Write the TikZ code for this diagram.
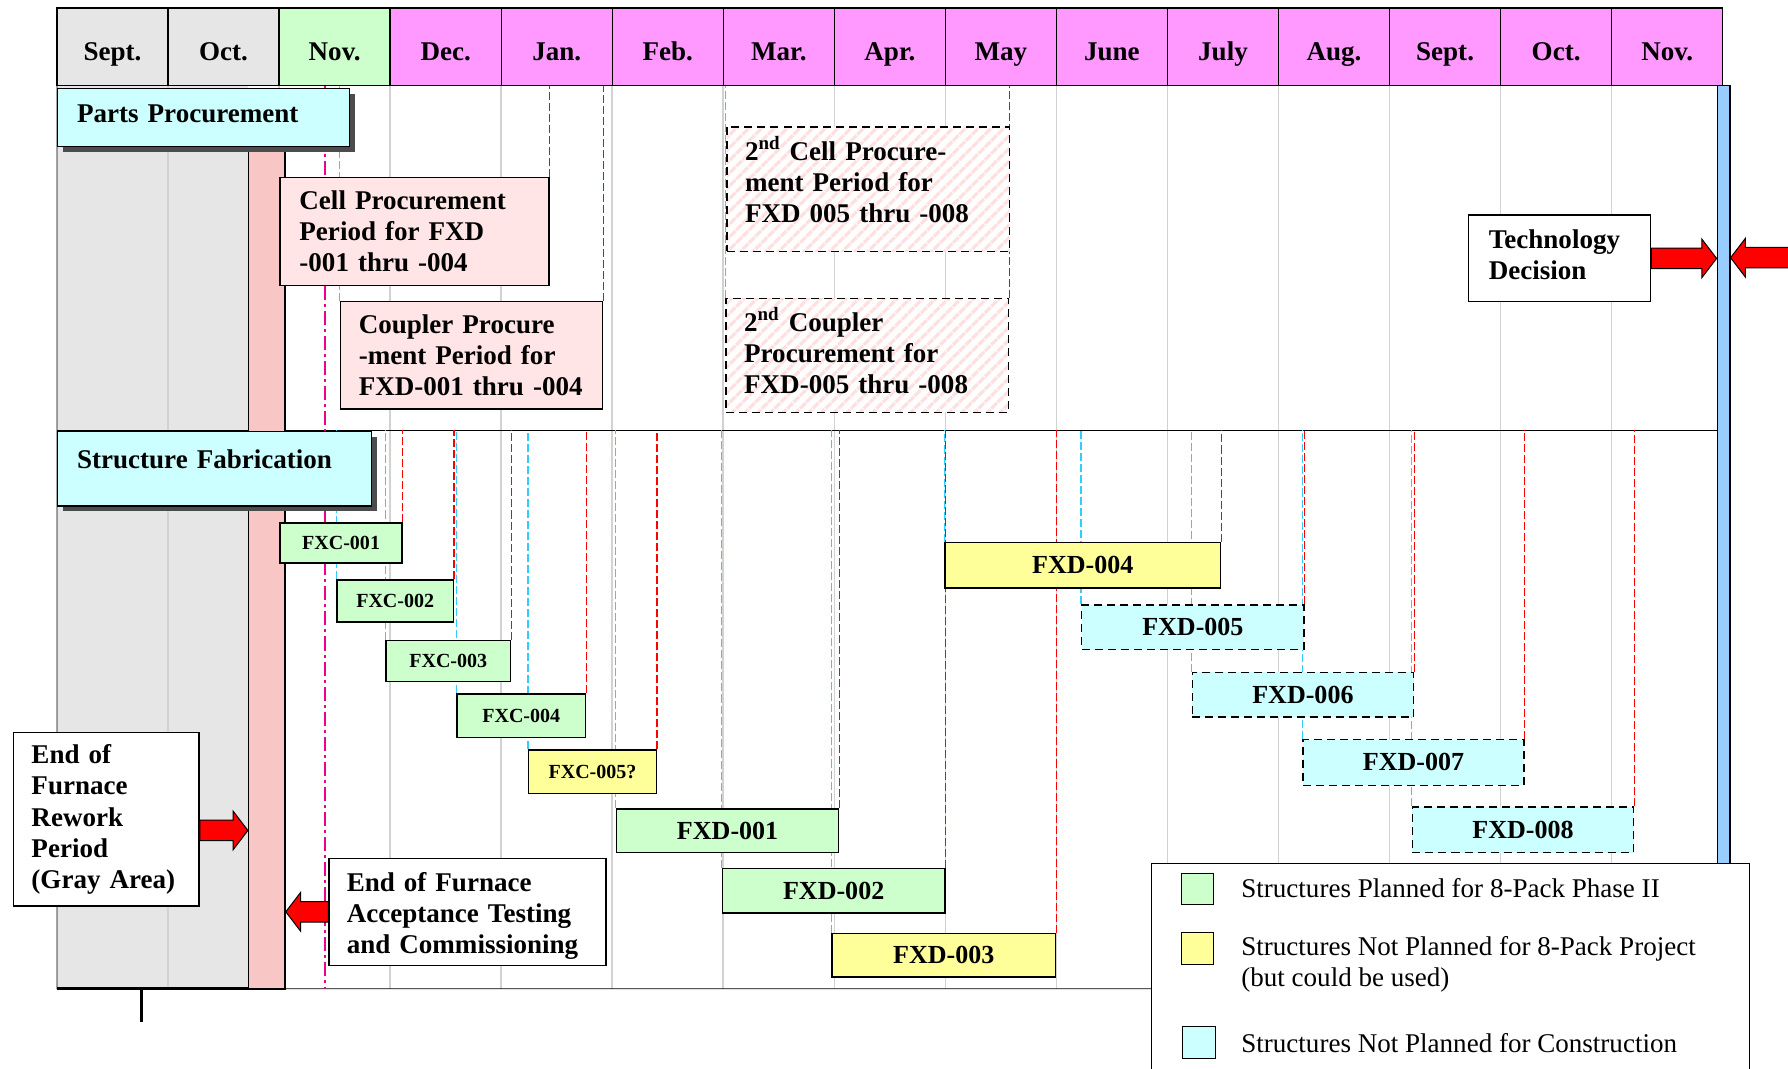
\documentclass[tikz,border=0pt]{standalone}
\usepackage{fontspec}
\setmainfont{Liberation Serif}
\usepackage{xcolor}
\usepackage{tikz}
\usetikzlibrary{positioning, fit, calc, shadows, patterns.meta}

\definecolor{graycell}{HTML}{E6E6E6}
\definecolor{novgreen}{HTML}{CCFFCC}
\definecolor{magcell}{HTML}{FF99FF}
\definecolor{cyancell}{HTML}{CCFFFF}
\definecolor{yellowcell}{HTML}{FFFF99}
\definecolor{pinkband}{HTML}{F9C6C6}
\definecolor{pinkbox}{HTML}{FFE5E5}
\definecolor{bluebar}{HTML}{99CCFF}
\definecolor{limitcyan}{HTML}{33CCFF}

\pgfdeclarelayer{bg}
\pgfdeclarelayer{guides}
\pgfsetlayers{bg,guides,main}

\begin{document}
\begin{tikzpicture}[
    x=0.02cm, y=-0.02cm, line width=0.7pt,
    month/.style={rectangle, draw, fill=magcell, outer sep=0pt, minimum width=1.948cm, minimum height=1.36cm, text height=17pt, text depth=3pt, font=\fontsize{13.5}{16}\selectfont\bfseries},
    section/.style={rectangle, draw, fill=cyancell, anchor=north west, inner sep=0pt, align=left, font=\fontsize{13.5}{16}\selectfont\bfseries, drop shadow={shadow xshift=2.8pt, shadow yshift=-2.8pt, fill=gray!60!black, opacity=1}},
    note/.style={rectangle, draw, fill=white, anchor=north west, inner sep=0pt, align=left, font=\fontsize{13.5}{15.5}\selectfont\bfseries},
    buy/.style={note, fill=pinkbox},
    buylater/.style={rectangle, draw, anchor=north west, inner sep=0pt, align=left, font=\fontsize{13.5}{15.5}\selectfont\bfseries, dash pattern=on 4pt off 2.5pt, preaction={fill=white}, pattern={Lines[angle=45, distance=4.5pt, line width=1.6pt]}, pattern color=red!12},
    fxc/.style={rectangle, draw, anchor=north west, inner sep=0pt, minimum height=0.74cm, font=\fontsize{10}{12}\selectfont\bfseries},
    fxd/.style={fxc, minimum height=0.78cm, font=\fontsize{13}{15}\selectfont\bfseries},
    planned/.style={fill=novgreen},
    spare/.style={fill=yellowcell},
    unplanned/.style={fill=cyancell, dash pattern=on 4pt off 2.5pt},
    key/.style={rectangle, draw, inner sep=0pt},
    keytext/.style={inner sep=0pt, anchor=west, align=left, font=\fontsize{13.5}{15.4}\selectfont},
    gridline/.style={gray!35, line width=0.8pt},
    redlimit/.style={red, line width=0.6pt, dash pattern=on 4pt off 1.5pt},
    cyanlimit/.style={limitcyan, line width=0.6pt, dash pattern=on 4pt off 1.5pt},
    furnace/.style={magenta, line width=1.3pt, dash pattern=on 7pt off 2pt on 1.5pt off 2pt},
    fatarrow/.style={draw=black, fill=red, line width=0.5pt, line join=miter, to path={
        ($(\tikztostart)!0.18cm!90:(\tikztotarget)$)
        -- ($(\tikztotarget)!0.26cm!(\tikztostart)!0.18cm!-90:(\tikztostart)$)
        -- ($(\tikztotarget)!0.26cm!(\tikztostart)!0.34cm!-90:(\tikztostart)$)
        -- (\tikztotarget)
        -- ($(\tikztotarget)!0.26cm!(\tikztostart)!0.34cm!90:(\tikztostart)$)
        -- ($(\tikztotarget)!0.26cm!(\tikztostart)!0.18cm!90:(\tikztostart)$)
        -- ($(\tikztostart)!0.18cm!-90:(\tikztotarget)$)
        -- cycle}}
]
\useasboundingbox (0,0) rectangle (1568,937);
\clip (0,0) rectangle (1568,937);

% Month header
\node[month, fill=graycell] (m1) at (98.7,41) {Sept.};
\node[month, fill=graycell, right=0pt of m1] (m2) {Oct.};
\node[month, fill=novgreen, right=0pt of m2] (m3) {Nov.};
\node[month, right=0pt of m3] (m4) {Dec.};
\node[month, right=0pt of m4] (m5) {Jan.};
\node[month, right=0pt of m5] (m6) {Feb.};
\node[month, right=0pt of m6] (m7) {Mar.};
\node[month, right=0pt of m7] (m8) {Apr.};
\node[month, right=0pt of m8] (m9) {May};
\node[month, right=0pt of m9] (m10) {June};
\node[month, right=0pt of m10] (m11) {July};
\node[month, right=0pt of m11] (m12) {Aug.};
\node[month, right=0pt of m12] (m13) {Sept.};
\node[month, right=0pt of m13] (m14) {Oct.};
\node[month, right=0pt of m14] (m15) {Nov.};

\coordinate (div) at (50,377);
\coordinate (bot) at (50,867);
\coordinate (accepted) at (285,75);
\coordinate (tick) at (124,867);
\coordinate (offpage) at (1620,226);

% Rework band and decision bar
\node[draw, fill=pinkband, inner sep=0pt, fit={(218,120)(250,867)}] (band) {};
\node[draw, fill=bluebar, inner sep=0pt, fit={(1506,75)(1517,960)}] (bar) {};

% Parts procurement
\node[section, minimum width=5.12cm, minimum height=1.02cm, text width=4.44cm, text height=9.5pt, text depth=5pt] (parts) at (50,77) {Parts Procurement};
\node[buy, minimum width=4.72cm, minimum height=1.9cm, text width=4.04cm] (cell) at (245,155) {Cell Procurement\\Period for FXD\\-001 thru -004};
\node[buy, minimum width=4.6cm, minimum height=1.88cm, text width=3.96cm] (coupler) at (298,264) {Coupler Procure\\-ment Period for\\FXD-001 thru -004};
\node[buylater, minimum width=4.96cm, minimum height=2.18cm, text width=4.32cm, text depth=40.5pt] (cell2) at (636,110) {2\textsuperscript{nd} Cell Procure-\\ment Period for\\FXD 005 thru -008};
\node[buylater, minimum width=4.96cm, minimum height=2.0cm, text width=4.32cm, text depth=36pt] (coupler2) at (636,261) {2\textsuperscript{nd} Coupler\\Procurement for\\FXD-005 thru -008};
\node[note, minimum width=3.2cm, minimum height=1.52cm, text width=2.48cm, text depth=19pt] (tech) at (1287,188) {Technology\\Decision};

% Structure fabrication
\node[section, minimum width=5.5cm, minimum height=1.3cm, text width=4.82cm, text height=9.5pt, text depth=9.5pt] (fab) at (50,378) {Structure Fabrication};
\node[fxc, planned, minimum width=2.14cm, minimum height=0.7cm] (fxc1) at (245,458) {FXC-001};
\node[fxc, planned, minimum width=2.04cm] (fxc2) at (295,508) {FXC-002};
\node[fxc, planned, minimum width=2.18cm, minimum height=0.72cm] (fxc3) at (338,561) {FXC-003};
\node[fxc, planned, minimum width=2.26cm, minimum height=0.76cm] (fxc4) at (400,608) {FXC-004};
\node[fxc, spare, minimum width=2.24cm, minimum height=0.76cm] (fxc5) at (463,657) {FXC-005?};
\node[fxd, planned, minimum width=3.9cm, minimum height=0.76cm] (fxd1) at (540,709) {FXD-001};
\node[fxd, planned, minimum width=3.9cm] (fxd2) at (633,761) {FXD-002};
\node[fxd, spare, minimum width=3.92cm, minimum height=0.76cm] (fxd3) at (729,818) {FXD-003};
\node[fxd, spare, minimum width=4.84cm, minimum height=0.8cm] (fxd4) at (828,475) {FXD-004};
\node[fxd, unplanned, minimum width=3.9cm] (fxd5) at (948,530) {FXD-005};
\node[fxd, unplanned, minimum width=3.88cm] (fxd6) at (1045,589) {FXD-006};
\node[fxd, unplanned, minimum width=3.88cm, minimum height=0.8cm] (fxd7) at (1142,648) {FXD-007};
\node[fxd, unplanned, minimum width=3.88cm, minimum height=0.8cm] (fxd8) at (1238,707) {FXD-008};

% Furnace notes
\node[note, minimum width=3.26cm, minimum height=3.04cm, text width=2.62cm] (rework) at (11,642) {End of\\Furnace\\Rework\\Period\\(Gray Area)};
\node[note, minimum width=4.86cm, minimum height=1.88cm, text width=4.24cm, text height=13.5pt] (accept) at (288,752) {End of Furnace\\Acceptance Testing\\and Commissioning};
\coordinate (reworkend) at ([yshift=-5.5pt]rework.east);

% Arrows
\draw[fatarrow] (reworkend) to (reworkend -| band.west);
\draw[fatarrow] (accept.west) to (accept.west -| band.east);
\draw[fatarrow] (tech.east) to (tech.east -| bar.west);
\draw[fatarrow] (offpage) to (offpage -| bar.east);

% Legend
\node[draw, fill=white, inner sep=0pt, fit={(1010,757)(1534,960)}] (legend) {};
\node[key, fill=novgreen, fit={(1036,766)(1064,793)}] (keyplanned) {};
\node[key, fill=yellowcell, fit={(1036,818)(1064,846)}] (keyspare) {};
\node[key, fill=cyancell, fit={(1037,900)(1066,928)}] (keyunplanned) {};
\node[keytext] (txtplanned) at (1088,779) {Structures Planned for 8-Pack Phase II};
\node[keytext] (txtspare) at (1088,846) {Structures Not Planned for 8-Pack Project\\(but could be used)};
\node[keytext] (txtunplanned) at (1088,915) {Structures Not Planned for Construction};

\begin{pgfonlayer}{bg}
\fill[white] (0,0) rectangle (1568,937);
\fill[graycell] (m1.south west) rectangle (band.west |- bot);
\draw[gridline] (m2.south west) -- (m2.south west |- bot)
    (m3.south west) -- (m3.south west |- bot)
    (m4.south west) -- (m4.south west |- bot)
    (m5.south west) -- (m5.south west |- bot)
    (m6.south west) -- (m6.south west |- bot)
    (m7.south west) -- (m7.south west |- bot)
    (m8.south west) -- (m8.south west |- bot)
    (m9.south west) -- (m9.south west |- bot)
    (m10.south west) -- (m10.south west |- bot)
    (m11.south west) -- (m11.south west |- bot)
    (m12.south west) -- (m12.south west |- bot)
    (m13.south west) -- (m13.south west |- bot)
    (m14.south west) -- (m14.south west |- bot)
    (m15.south west) -- (m15.south west |- bot);
\end{pgfonlayer}

\begin{pgfonlayer}{guides}
% Frame
\draw (m1.south west) -- (bot) -- (bot -| legend.west);
\draw[line width=1.6pt] (bot) -- (bot -| band.east);
\draw (div) -- (div -| bar.west);
\draw[line width=1.2pt] (tick) -- ++(0,29);
\draw[furnace] (accepted) -- (accepted |- bot);

% Procurement limits
\draw[redlimit] (cell.north east) -- (cell.north east |- m1.south)
    (coupler.north east) -- (coupler.north east |- m1.south)
    (coupler2.north east) -- (coupler2.north east |- m1.south);
\draw[cyanlimit] (coupler.north west) -- (coupler.north west |- m1.south)
    (coupler2.north west) -- (coupler2.north west |- m1.south);

% Fabrication limits
\draw[redlimit] (fxc1.north east) -- (fxc1.north east |- div)
    (fxc2.north east) -- (fxc2.north east |- div)
    (fxc3.north east) -- (fxc3.north east |- div)
    (fxc4.north east) -- (fxc4.north east |- div)
    (fxc5.north east) -- (fxc5.north east |- div)
    (fxd1.north east) -- (fxd1.north east |- div)
    (fxd2.north east) -- (fxd2.north east |- div)
    (fxd3.north east) -- (fxd3.north east |- div)
    (fxd4.north east) -- (fxd4.north east |- div)
    (fxd5.north east) -- (fxd5.north east |- div)
    (fxd6.north east) -- (fxd6.north east |- div)
    (fxd7.north east) -- (fxd7.north east |- div)
    (fxd8.north east) -- (fxd8.north east |- div);
\draw[cyanlimit] (fxc1.north west) -- (fxc1.north west |- div)
    (fxc2.north west) -- (fxc2.north west |- div)
    (fxc3.north west) -- (fxc3.north west |- div)
    (fxc4.north west) -- (fxc4.north west |- div)
    (fxc5.north west) -- (fxc5.north west |- div)
    (fxd1.north west) -- (fxd1.north west |- div)
    (fxd2.north west) -- (fxd2.north west |- div)
    (fxd3.north west) -- (fxd3.north west |- div)
    (fxd4.north west) -- (fxd4.north west |- div)
    (fxd5.north west) -- (fxd5.north west |- div)
    (fxd6.north west) -- (fxd6.north west |- div)
    (fxd7.north west) -- (fxd7.north west |- div)
    (fxd8.north west) -- (fxd8.north west |- div);
\end{pgfonlayer}

\end{tikzpicture}
\end{document}
